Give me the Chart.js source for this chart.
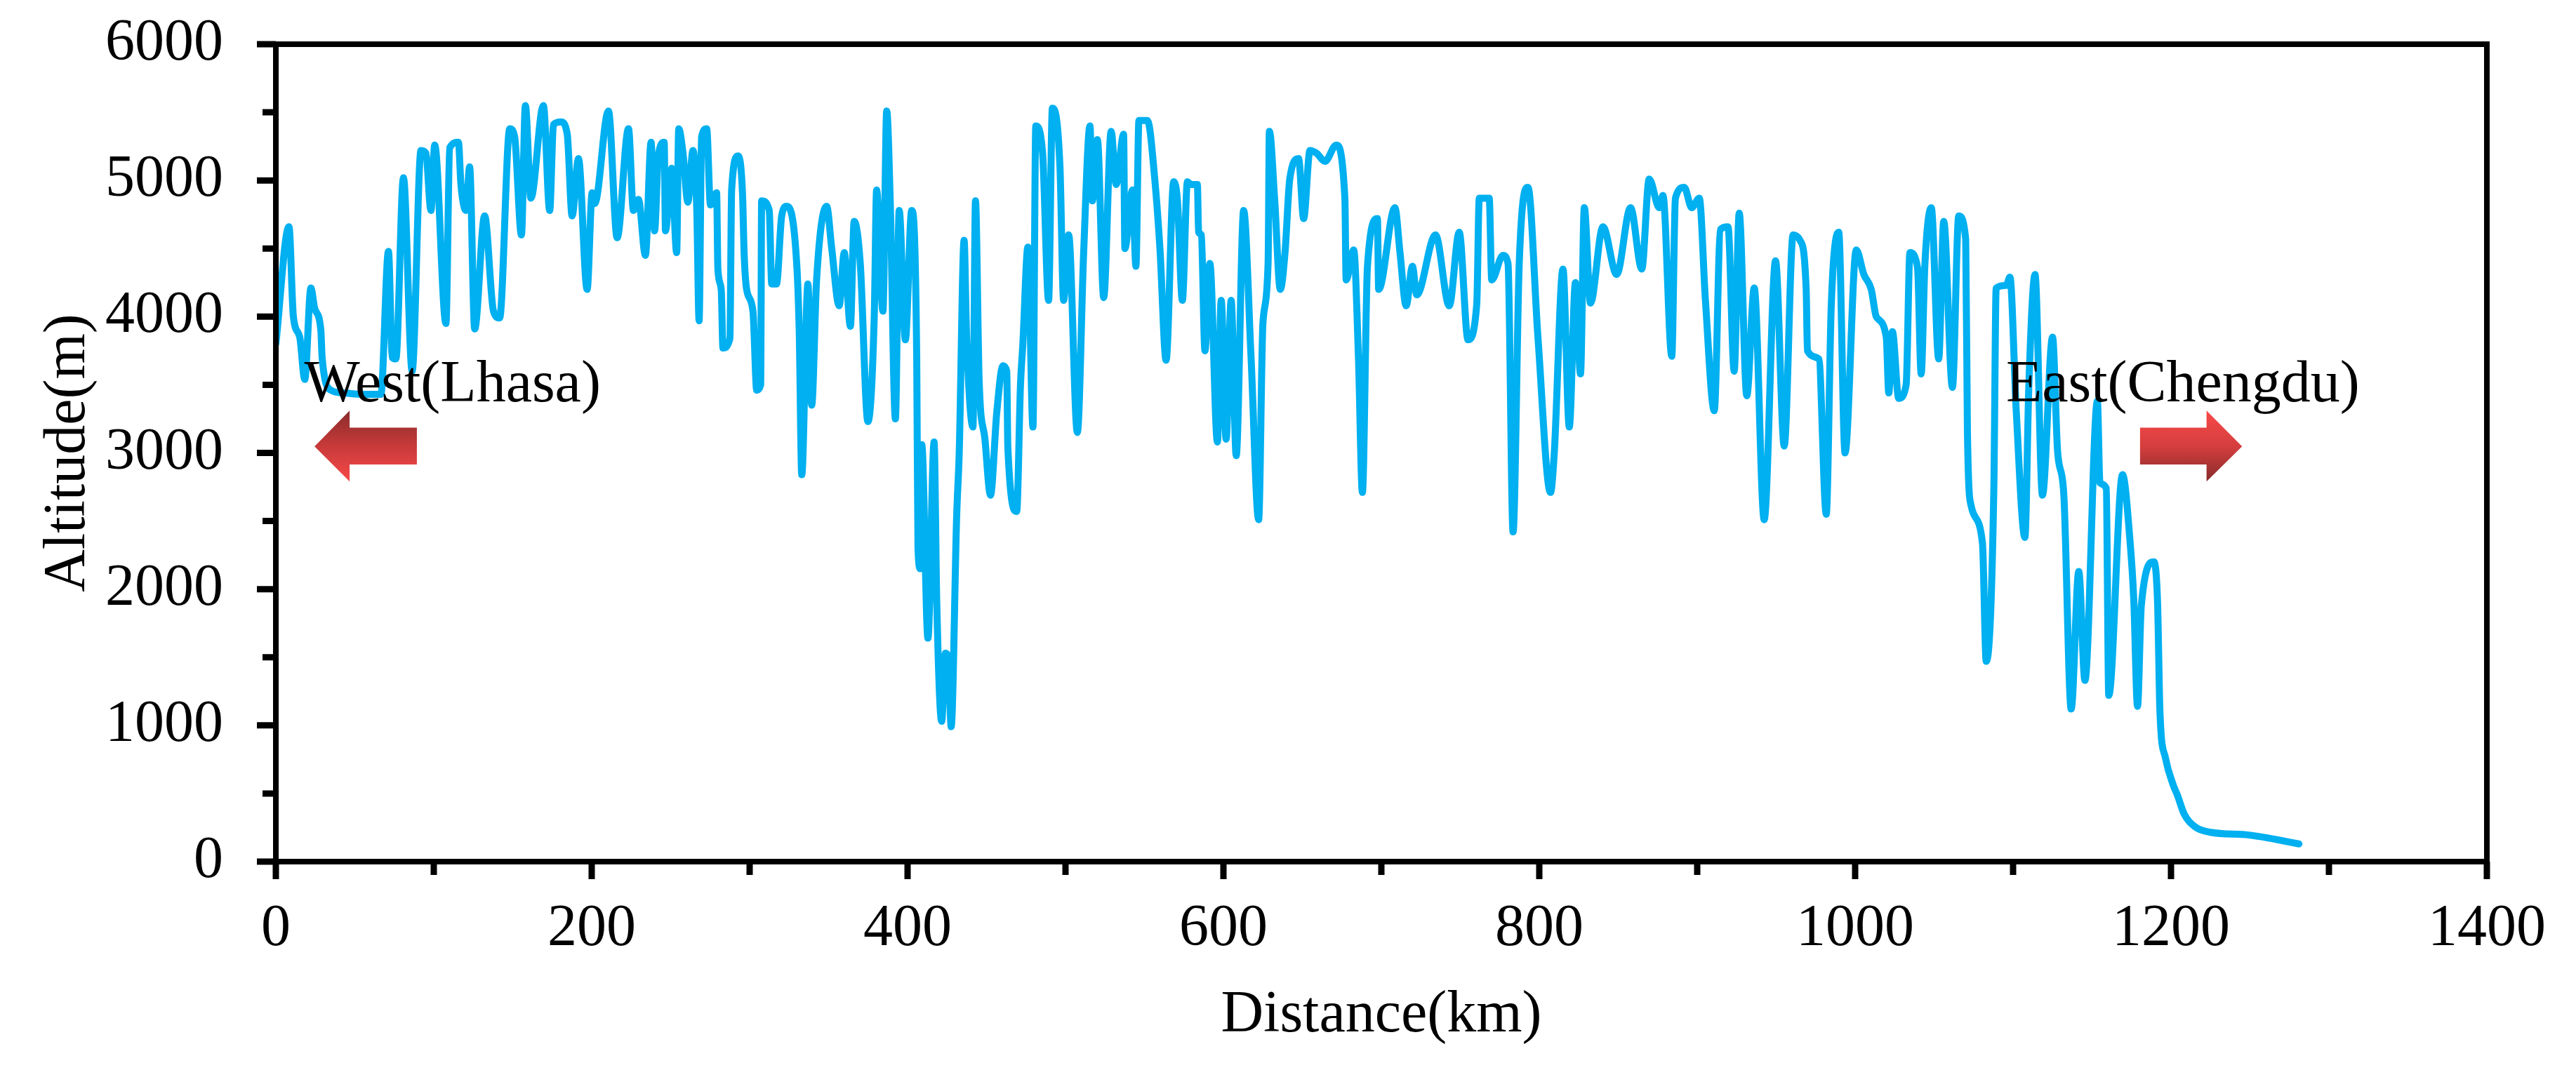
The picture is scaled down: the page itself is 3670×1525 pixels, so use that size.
<!DOCTYPE html>
<html>
<head>
<meta charset="utf-8">
<script src="https://cdn.jsdelivr.net/npm/chart.js@4/dist/chart.umd.min.js"></script>
<style>
  html, body { margin: 0; padding: 0; background: #ffffff; }
  canvas { display: block; }
</style>
</head>
<body>
<canvas id="profileChart" width="3670" height="1525"></canvas>
<script>
// ======================================
// DATA (railway altitude profile, Lhasa -> Chengdu)
// ======================================
const distanceKm = [
    0, 8.3, 11.1, 15.1, 18.3, 22.2, 24.6, 28.5, 29.3, 34.9, 42.8, 55, 66.5, 71.3, 73.7, 76,
    80.8, 86.3, 91.9, 95, 98.2, 100.6, 107.7, 110.1, 115.6, 117.2, 120.4, 122.7, 125.9, 132.2,
    137.8, 141.7, 148.1, 151.2, 155.5, 158, 161.5, 169.4, 173.4, 175.8, 180.5, 184.5, 187.6,
    191.6, 197.1, 200.3, 201.9, 210.6, 216.1, 223.3, 226.4, 229.6, 234.0, 237.6, 239.8, 242.2,
    245.9, 246.7, 250.6, 253.8, 255.1, 257.8, 260.9, 264.1, 266.5, 268.0, 269.6, 272.8, 275.2,
    279.1, 279.9, 282, 283.1, 287.5, 288.6, 292.6, 295.5, 296.5, 298.1, 302.1, 304.5, 307,
    307.6, 312.4, 314, 317, 320.3, 323.4, 329.8, 331.4, 333, 336.9, 339.3, 342.4, 348.8, 351.9,
    356.7, 359.9, 363.8, 366.2, 370, 374.9, 378.9, 380.4, 384.4, 386.8, 389, 392.3, 394.7,
    398.6, 402.6, 405.8, 406.6, 408.1, 409.0, 412.9, 416.8, 418.5, 421.6, 424.0, 425.8, 427.6,
    431.1, 432.7, 435.8, 437.4, 441.4, 443.0, 445.3, 449, 452.5, 456.5, 460.4, 462.8, 463.5,
    469.1, 471.5, 473, 476.2, 479.4, 481.2, 485.5, 489.3, 491.7, 496.5, 498.8, 502.0, 507.5,
    511.5, 515.5, 517.0, 520.2, 524.2, 528.9, 532.1, 536.8, 537.6, 542.4, 544.6, 546.5, 551.9,
    556.6, 559.8, 563.7, 568.5, 570.9, 574.0, 577.2, 579.6, 583.5, 584.3, 586, 588.3, 591.4,
    596.2, 598.6, 601.7, 604.9, 608.1, 612.8, 617.5, 622.3, 625, 628.3, 629.1, 632.5, 636,
    639.0, 642.0, 647.6, 650.8, 654.8, 659, 664.3, 671.4, 676.9, 677.7, 682.5, 685.5, 688.0,
    691.2, 697.5, 698.3, 708.6, 711.8, 715.7, 719.7, 722.4, 734.3, 743.0, 749.3, 754.9, 760.4,
    762.0, 768.3, 769.9, 777.0, 780.2, 783.4, 787.3, 792.8, 799.2, 807.1, 809.5, 815.0, 819.0,
    822.9, 826.1, 828.5, 832.4, 840.3, 849.0, 857.8, 864.9, 869.6, 876.0, 878.3, 883.9, 886.2,
    891.8, 896.5, 901.3, 905.2, 910.8, 914.7, 919.5, 923.4, 926.6, 931.4, 936.1, 942.4, 949.6,
    955.1, 960.7, 965.1, 969.0, 969.8, 977, 981.7, 984.9, 989.6, 993.6, 1000.7, 1005.5, 1010.2,
    1013.4, 1019.7, 1021.3, 1023.6, 1027.6, 1032.3, 1034.7, 1039.5, 1041.8, 1044.2, 1048.2,
    1052.9, 1056.1, 1061.6, 1065.6, 1070, 1071.1, 1073.5, 1080.6, 1083.0, 1087.8, 1089.3,
    1095.7, 1098.0, 1102.0, 1107.5, 1110, 1113.9, 1118.6, 1125.0, 1128.2, 1132.1, 1136.8,
    1141.6, 1145.5, 1153.4, 1155, 1159.0, 1160.6, 1169.3, 1174.0, 1176.4, 1178.8, 1181.2,
    1189.1, 1191.5, 1193, 1196.5, 1201.5, 1204, 1208.3, 1215.3, 1225, 1249.3, 1281
];
const altitudeM = [
    3800, 4660, 4000, 3850, 3540, 4210, 4060, 3900, 3700, 3460, 3440, 3430, 3430, 4480, 3700, 3690,
    5020, 3600, 5220, 5200, 4780, 5260, 3950, 5240, 5280, 4970, 4780, 5100, 3910, 4740,
    4040, 3990, 5380, 5320, 4600, 5550, 4870, 5550, 4780, 5410, 5430, 5340, 4740,
    5160, 4200, 4910, 4830, 5510, 4580, 5380, 4780, 4860, 4450, 5280, 4630, 5180,
    5280, 4630, 5090, 4470, 5380, 5200, 4840, 5220, 4800, 3970, 5320, 5380, 4820,
    4910, 4350, 4200, 3770, 3840, 4930, 5180, 4900, 4470, 4200, 4040, 3460, 3500,
    4850, 4780, 4240, 4240, 4740, 4810, 4390, 3890, 2840, 4240, 3350, 4270, 4810, 4510,
    4080, 4470, 3930, 4700, 4400, 3230, 4000, 4930, 4040, 5510, 4860, 3250, 4780,
    3830, 4780, 3700, 2300, 2150, 3060, 1640, 3080, 1900, 1030, 1530, 1500, 990,
    2540, 3000, 4560, 3850, 3190, 4850, 3540, 3100, 2690, 3300, 3640, 3600, 3040,
    2570, 3500, 3800, 4510, 3190, 5400, 5200, 4120, 5530, 5100, 4120, 4600, 3150,
    4470, 5400, 4850, 5300, 4140, 5360, 4970, 5340, 4500, 4930, 4370, 5440, 5440,
    5000, 4500, 3680, 4990, 4850, 4120, 4990, 4970, 4970, 4620, 4600, 3750, 4390,
    3080, 4120, 3100, 4120, 2980, 4780, 3700, 2510, 3950, 4400, 5360, 4850, 4200,
    4470, 5010, 5160, 4720, 5220, 5200, 5140, 5260, 4870, 4270, 4490, 3700, 2710,
    4370, 4720, 4200, 4800, 4470, 4080, 4370, 4160, 4600, 4080, 4620, 3830, 4090,
    4870, 4870, 4270, 4450, 4390, 2420, 4390, 4950, 3840, 2710, 3000, 4350, 3190,
    4250, 3580, 4800, 4100, 4660, 4310, 4800, 4350, 5010, 4800, 4890, 3710, 4870,
    4950, 4800, 4870, 4120, 3310, 4640, 4660, 3600, 4760, 3420, 4210, 2510, 4410,
    3050, 4600, 4560, 4200, 3750, 3690, 2550, 4090, 4620, 3000, 4490, 4310, 4200,
    4000, 3850, 3440, 3890, 3400, 3500, 4470, 4360, 3580, 4390, 4800,
    3690, 4700, 3480, 4740, 4570, 3150, 2610, 2340, 1470, 2720, 4210,
    4230, 4290, 3310, 2380, 3500, 4310, 2690, 3850, 3010, 2700, 1120,
    2130, 1330, 3380, 2780, 2740, 1220, 2840, 2360, 1930, 1140, 1880,
    2200, 1900, 1100, 760, 560, 490, 350, 255, 215, 195, 130
];

// axis ticks
const xTickValues = [0, 200, 400, 600, 800, 1000, 1200, 1400];
const yTickValues = [0, 1000, 2000, 3000, 4000, 5000, 6000];
const xMinorStep = 100;
const yMinorStep = 500;

// direction notes (km, m)
const westLabel = { text: 'West(Lhasa)', km: 18, alt: 3380 };
const eastLabel = { text: 'East(Chengdu)', km: 1095.5, alt: 3380 };
const westArrow = { tip: 24.5, headBase: 46.7, tail: 89.3 };
const eastArrow = { tip: 1245, headBase: 1222.5, tail: 1180.4 };
const arrowAlt = { headTop: 3310, shaftTop: 3185, mid: 3048, shaftBottom: 2915, headBottom: 2790 };

// ======================================
// STYLE
// ======================================
const serif = '"Liberation Serif", "Times New Roman", serif';
const lineColor = '#00B0F0';
const fontPx = 84;

Chart.defaults.font.family = serif;
Chart.defaults.font.size = fontPx;
Chart.defaults.color = '#000000';

// ======================================
// PLUGINS
// ======================================
const framePlugin = {
    id: 'frameAndTicks',
    afterDraw(chart) {
        const { ctx, chartArea: a, scales: { x, y } } = chart;
        ctx.save();
        ctx.strokeStyle = '#000000';
        ctx.lineWidth = 8;
        ctx.strokeRect(a.left, a.top, a.right - a.left, a.bottom - a.top);

        ctx.lineWidth = 9;
        ctx.beginPath();
        for (let v = y.min; v <= y.max; v += yMinorStep) {
            const py = y.getPixelForValue(v);
            const len = (v % 1000 === 0) ? 27 : 19;
            ctx.moveTo(a.left, py); ctx.lineTo(a.left - len, py);
        }
        for (let v = x.min; v <= x.max; v += xMinorStep) {
            const px = x.getPixelForValue(v);
            const len = (v % 200 === 0) ? 25 : 19;
            ctx.moveTo(px, a.bottom); ctx.lineTo(px, a.bottom + len);
        }
        ctx.stroke();
        ctx.restore();
    }
};

function drawArrow(ctx, x, y, arrow, pointsLeft) {
    const tipX = x.getPixelForValue(arrow.tip);
    const baseX = x.getPixelForValue(arrow.headBase);
    const tailX = x.getPixelForValue(arrow.tail);
    const hTop = y.getPixelForValue(arrowAlt.headTop);
    const sTop = y.getPixelForValue(arrowAlt.shaftTop);
    const mid = y.getPixelForValue(arrowAlt.mid);
    const sBot = y.getPixelForValue(arrowAlt.shaftBottom);
    const hBot = y.getPixelForValue(arrowAlt.headBottom);
    const grad = ctx.createLinearGradient(0, hTop, 0, hBot);
    if (pointsLeft) {
        grad.addColorStop(0, '#8a2c2c'); grad.addColorStop(0.5, '#c83a3a'); grad.addColorStop(1, '#f74949');
    } else {
        grad.addColorStop(0, '#f74949'); grad.addColorStop(0.5, '#d63e3e'); grad.addColorStop(1, '#862b2b');
    }
    ctx.beginPath();
    ctx.moveTo(tipX, mid);
    ctx.lineTo(baseX, hTop);
    ctx.lineTo(baseX, sTop);
    ctx.lineTo(tailX, sTop);
    ctx.lineTo(tailX, sBot);
    ctx.lineTo(baseX, sBot);
    ctx.lineTo(baseX, hBot);
    ctx.closePath();
    ctx.fillStyle = grad;
    ctx.fill();
}

const notesPlugin = {
    id: 'directionNotes',
    afterDatasetsDraw(chart) {
        const { ctx, scales: { x, y } } = chart;
        ctx.save();
        ctx.font = fontPx + 'px ' + serif;
        ctx.fillStyle = '#000000';
        ctx.textAlign = 'left';
        ctx.textBaseline = 'alphabetic';
        ctx.fillText(westLabel.text, x.getPixelForValue(westLabel.km), y.getPixelForValue(westLabel.alt));
        ctx.fillText(eastLabel.text, x.getPixelForValue(eastLabel.km), y.getPixelForValue(eastLabel.alt));
        drawArrow(ctx, x, y, westArrow, true);
        drawArrow(ctx, x, y, eastArrow, false);
        ctx.restore();
    }
};

// ======================================
// CHART
// ======================================
const points = distanceKm.map((d, i) => ({ x: d, y: altitudeM[i] }));

document.addEventListener('DOMContentLoaded', function() {
    const ctx = document.getElementById('profileChart').getContext('2d');
    new Chart(ctx, {
        type: 'line',
        data: {
            datasets: [{
                label: 'Altitude',
                data: points,
                borderColor: lineColor,
                borderWidth: 10,
                pointRadius: 0,
                fill: false,
                cubicInterpolationMode: 'monotone',
                borderJoinStyle: 'round',
                borderCapStyle: 'round'
            }]
        },
        options: {
            responsive: false,
            animation: false,
            events: [],
            layout: { padding: { top: 63, right: 127, left: 0, bottom: 0 } },
            plugins: { legend: { display: false }, tooltip: { enabled: false }, title: { display: false } },
            scales: {
                x: {
                    type: 'linear', min: 0, max: 1400,
                    grid: { display: false, drawTicks: false },
                    border: { display: false },
                    afterFit(scale) { scale.height = 297; scale.paddingLeft = 0; scale.paddingRight = 0; },
                    afterBuildTicks(scale) { scale.ticks = xTickValues.map(v => ({ value: v })); },
                    ticks: { padding: 47, maxRotation: 0, autoSkip: false, callback: v => String(v) },
                    title: { display: true, text: 'Distance(km)', padding: { top: 0, bottom: 27 } }
                },
                y: {
                    type: 'linear', min: 0, max: 6000,
                    grid: { display: false, drawTicks: false },
                    border: { display: false },
                    afterFit(scale) { scale.width = 393; scale.paddingTop = 0; scale.paddingBottom = 0; },
                    afterBuildTicks(scale) { scale.ticks = yTickValues.map(v => ({ value: v })); },
                    ticks: { padding: 75, autoSkip: false, callback: v => String(v) },
                    title: { display: true, text: 'Altitude(m)', padding: { top: 48, bottom: 0 } }
                }
            }
        },
        plugins: [framePlugin, notesPlugin]
    });
});
</script>
</body>
</html>
